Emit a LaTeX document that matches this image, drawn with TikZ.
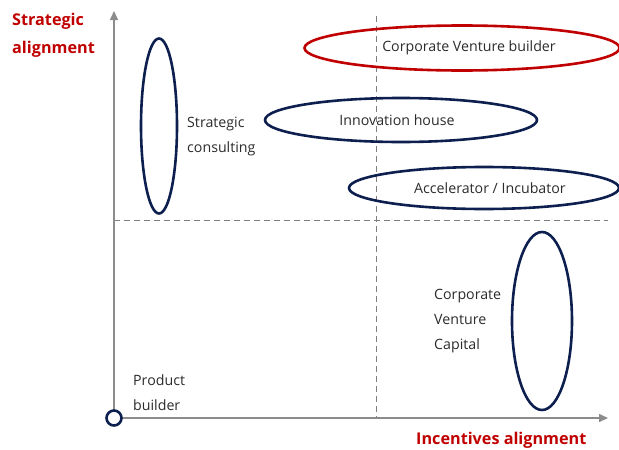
\documentclass[tikz,border=0pt]{standalone}
\usepackage{fontspec}
\setmainfont{Open Sans}
\usetikzlibrary{shapes.geometric,arrows.meta}
\definecolor{navy}{HTML}{0D1F4F}
\definecolor{redc}{HTML}{C00000}
\definecolor{axisgray}{HTML}{8C8C8C}
\definecolor{dashgray}{HTML}{7F7F7F}
\definecolor{txt}{HTML}{2B2B2B}
\begin{document}
\begin{tikzpicture}[x=1pt,y=-1pt,
  axis/.style={draw=axisgray,line width=1.5pt,-{Triangle[length=9pt,width=8pt]}},
  guide/.style={draw=dashgray,line width=1pt,dash pattern=on 6pt off 4pt},
  oval/.style={ellipse,draw=navy,line width=2.6pt,inner sep=0pt,text=txt,font=\fontsize{14.2}{25}\selectfont},
  redoval/.style={oval,draw=redc},
  lbl/.style={text=txt,font=\fontsize{14.2}{25}\selectfont,align=left,inner sep=0pt,anchor=north west},
  axlbl/.style={text=redc,font=\bfseries\fontsize{16.2}{28}\selectfont,align=left,inner sep=0pt}
]
\useasboundingbox (0,0) rectangle (619,450);
\coordinate (O) at (114,418);
\coordinate (ytop) at (114,11);
\coordinate (xend) at (608,418);
\coordinate (vtop) at (376,16);
\coordinate (vbot) at (376,418);
\coordinate (hl) at (114,220);
\coordinate (hr) at (608,220);
\draw[guide] (vtop) -- (vbot);
\draw[guide] (hl) -- (hr);
\draw[axis] (O) -- (ytop);
\draw[axis] (O) -- (xend);
\node[circle,draw=navy,fill=white,line width=2.6pt,minimum size=15pt,inner sep=0pt] (orig) at (O) {};

\node[oval,minimum width=36pt,minimum height=175pt] (sc) at (159,126) {};
\node[redoval,minimum width=315pt,minimum height=45pt] (cvb) at (462,48) {\hspace*{14pt}Corporate Venture builder};
\node[oval,minimum width=272pt,minimum height=44pt] (ih) at (401,120) {\hspace*{-8pt}Innovation house};
\node[oval,minimum width=270pt,minimum height=42pt] (ai) at (484,188) {\hspace*{12pt}Accelerator / Incubator};
\node[oval,minimum width=60pt,minimum height=178pt] (cvc) at (542,321) {};

\node[lbl] (sclbl) at (187,117) {Strategic\\consulting};
\node[lbl] (cvclbl) at (434,289) {Corporate\\Venture\\Capital};
\node[lbl] (pblbl) at (133,375) {Product\\builder};
\node[axlbl,anchor=north west] (ylbl) at (12,13) {Strategic\\alignment};
\node[axlbl,anchor=north west] (xlbl) at (416,432) {Incentives alignment};
\end{tikzpicture}
\end{document}
